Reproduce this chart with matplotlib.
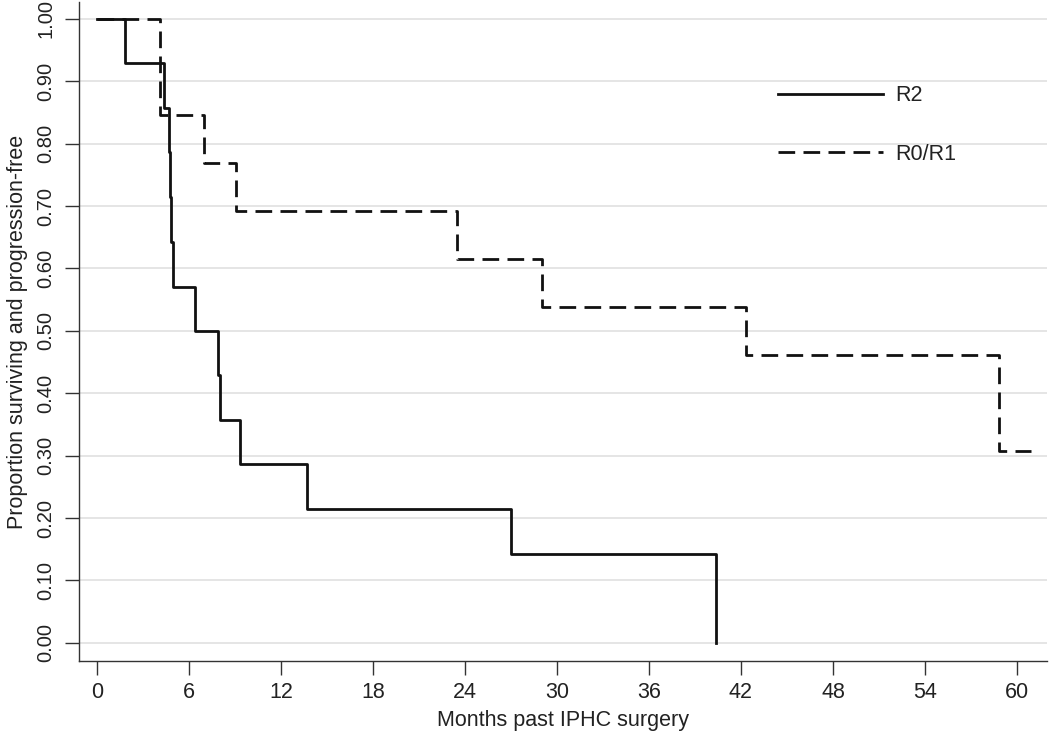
import matplotlib
matplotlib.use("Agg")
import matplotlib.pyplot as plt

plt.rcParams['font.family'] = ['Liberation Sans', 'DejaVu Sans']

# Data (Kaplan-Meier step curves)
r2_times = [0, 1.8, 4.4, 4.7, 4.75, 4.85, 4.95, 6.4, 7.9, 8.05, 9.3, 13.7, 27.0, 40.4]
r2_surv = [1.0, 0.929, 0.857, 0.786, 0.714, 0.643, 0.571, 0.500, 0.429, 0.357, 0.286, 0.214, 0.143, 0.0]

r01_times = [0, 4.1, 7.0, 9.1, 23.5, 29.0, 42.3, 58.8, 60.9]
r01_surv = [1.0, 0.846, 0.769, 0.692, 0.615, 0.538, 0.462, 0.308, 0.308]

x_ticks = [0, 6, 12, 18, 24, 30, 36, 42, 48, 54, 60]
y_ticks = [0.0, 0.1, 0.2, 0.3, 0.4, 0.5, 0.6, 0.7, 0.8, 0.9, 1.0]
y_ticklabels = ["%.2f" % v for v in y_ticks]

FS = 15.5

fig = plt.figure(figsize=(10.5, 7.4), dpi=100)
ax = fig.add_axes([79 / 1050, 79 / 740, (1047 - 79) / 1050, (661 - 2) / 740])

for y in y_ticks:
    ax.axhline(y, color='#e3e3e3', lw=1.3, zorder=0)

ax.step(r2_times, r2_surv, where='post', color='#111111', lw=2.0, label='R2')
ax.step(r01_times, r01_surv, where='post', color='#111111', lw=2.0,
        dashes=(6, 3), label='R0/R1')

ax.set_xlim(-1.17, 61.96)
ax.set_ylim(-0.029, 1.027)
ax.set_xticks(x_ticks)
ax.set_xticklabels([str(t) for t in x_ticks])
ax.set_yticks(y_ticks)
ax.set_yticklabels(y_ticklabels, rotation=90, va='center')

for s in ['top', 'right']:
    ax.spines[s].set_visible(False)
for s in ['left', 'bottom']:
    ax.spines[s].set_color('#333333')
    ax.spines[s].set_linewidth(1.0)

ax.tick_params(axis='both', direction='out', length=10, width=1.0, color='#333333',
               labelcolor='#222222', pad=5)
ax.tick_params(axis='x', labelsize=FS)
ax.tick_params(axis='y', labelsize=14.5, pad=7)

ax.set_xlabel('Months past IPHC surgery', fontsize=FS, color='#222222', labelpad=5)
ax.set_ylabel('Proportion surviving and progression-free', fontsize=FS,
              color='#222222', labelpad=6)

leg = ax.legend(loc='upper left', bbox_to_anchor=(0.713, 0.887), frameon=False,
                fontsize=FS, handlelength=4.9, labelspacing=1.75, handletextpad=0.55,
                borderaxespad=0)
for t in leg.get_texts():
    t.set_color('#222222')

fig.savefig('out.png', dpi=100)
